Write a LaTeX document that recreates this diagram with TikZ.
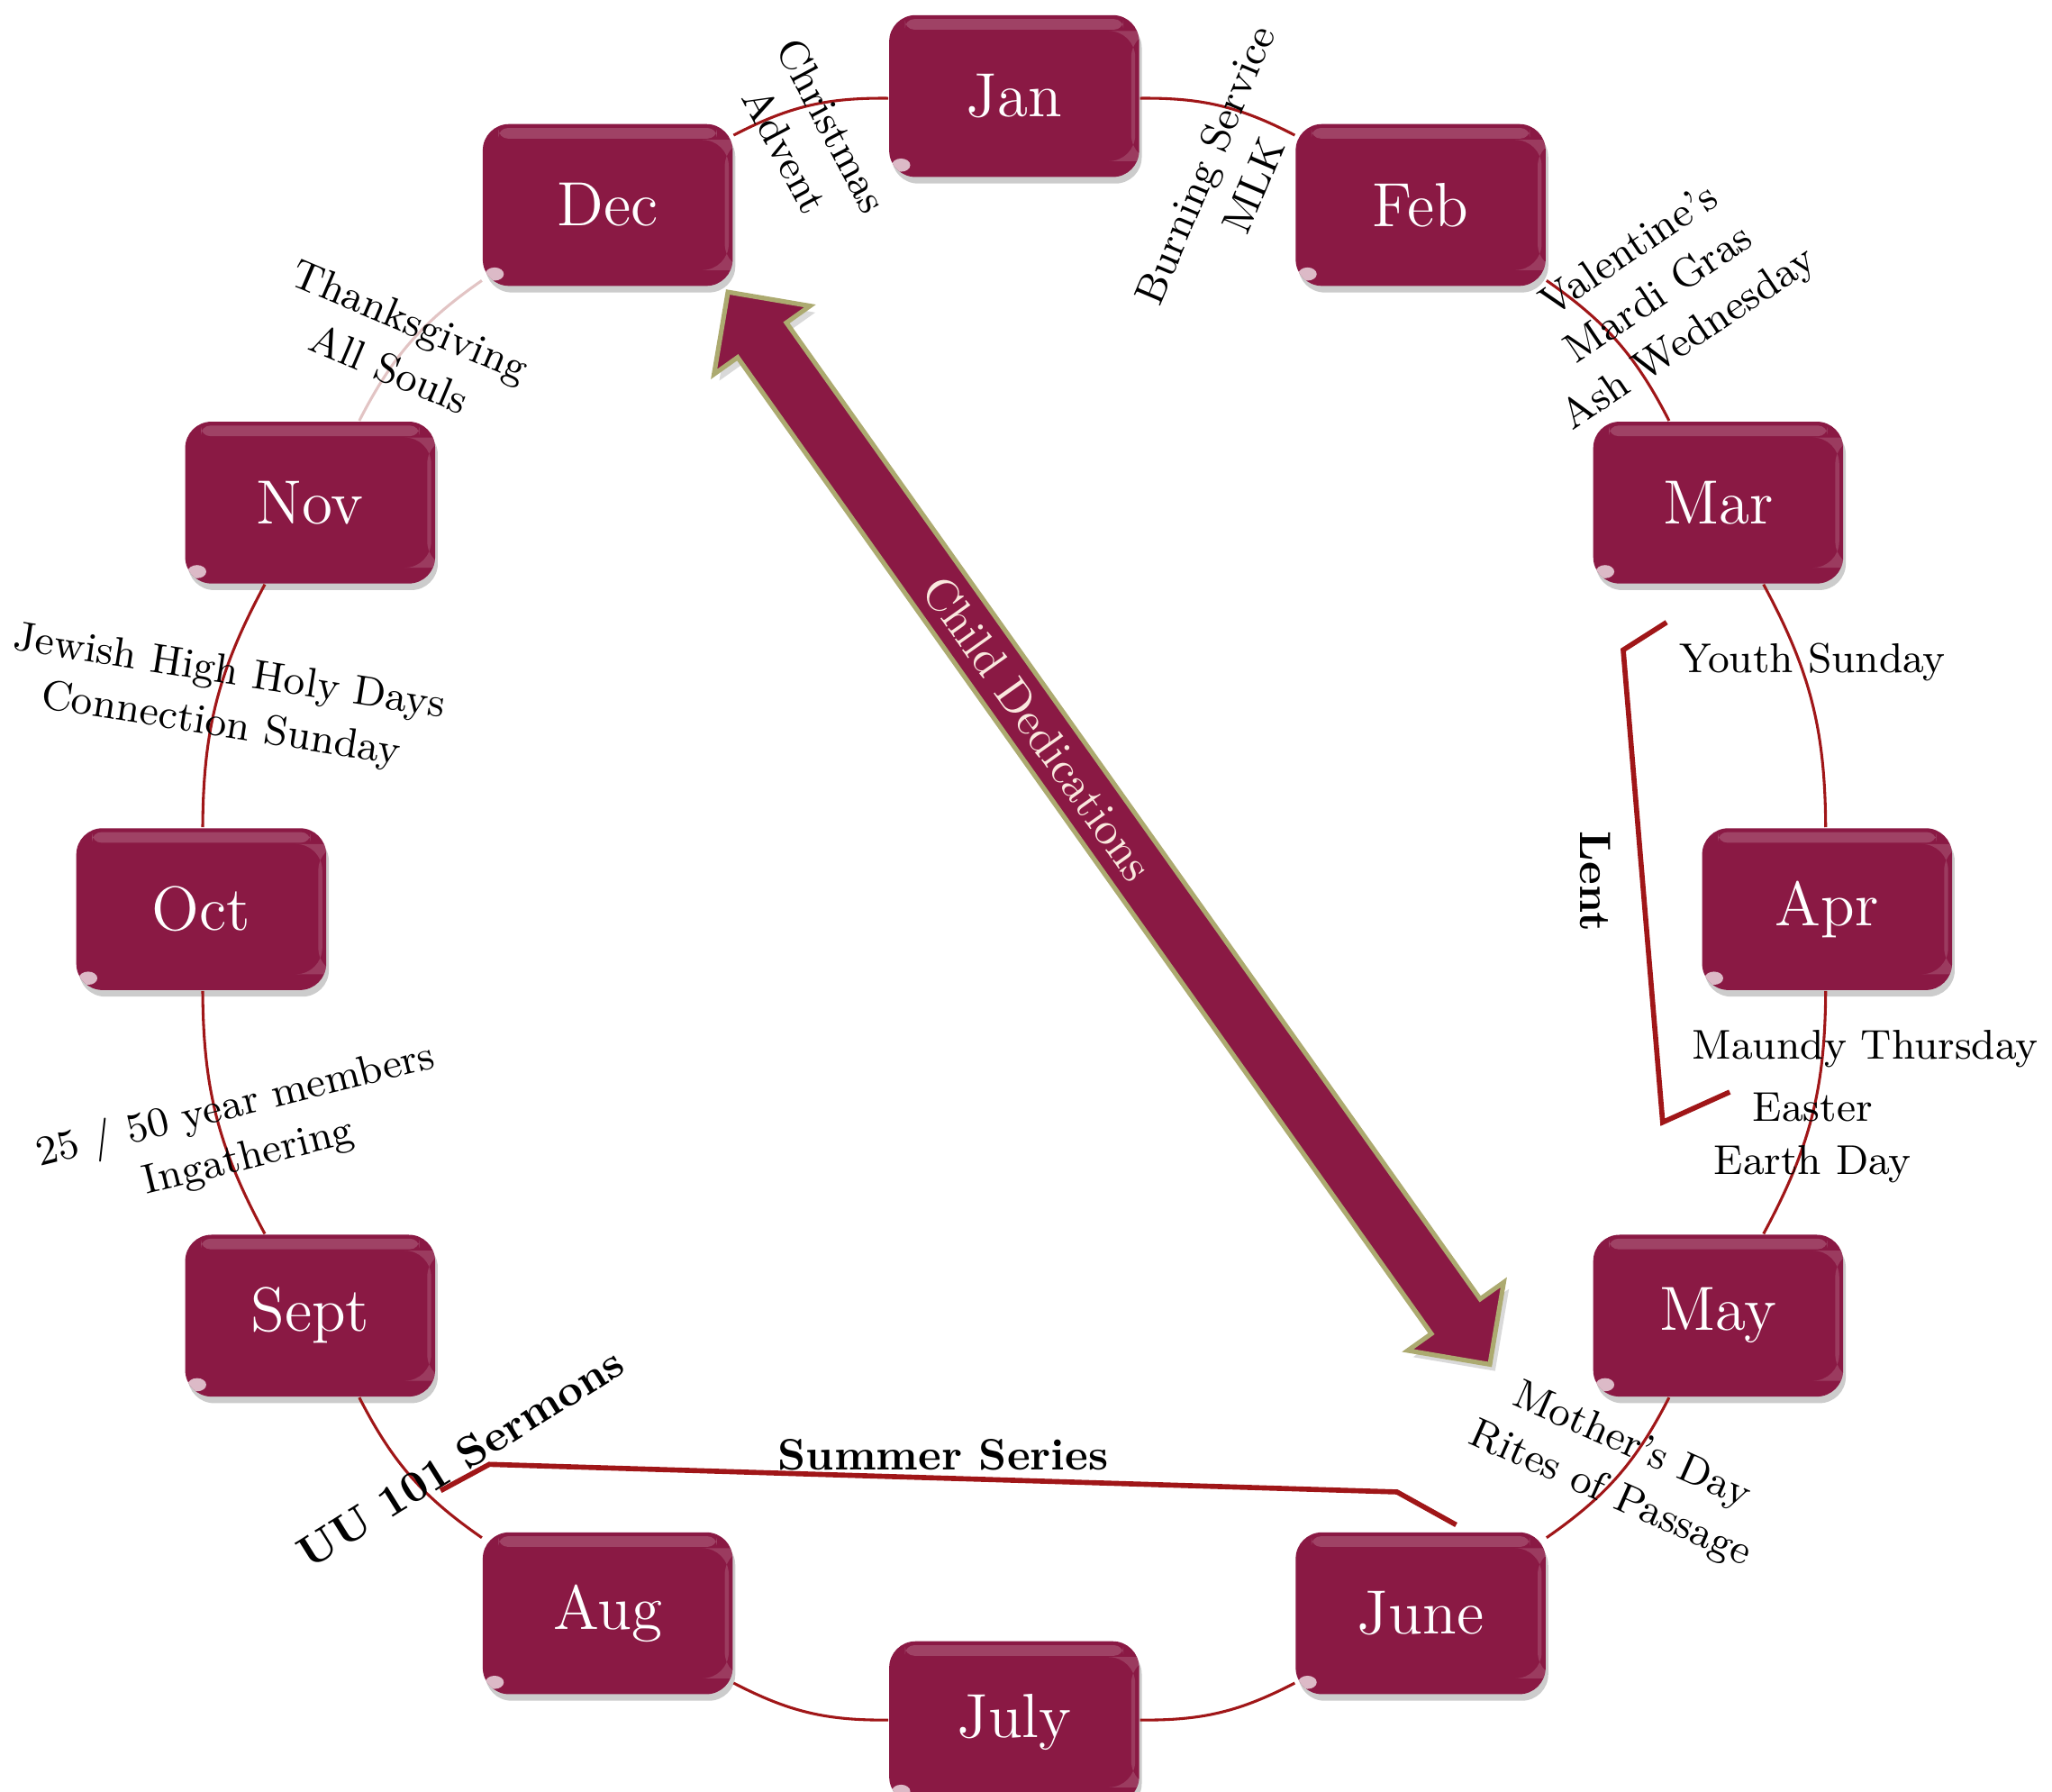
\documentclass[tikz,border=0pt]{standalone}
\usepackage{tikz}
\usetikzlibrary{arrows,positioning,calc,shapes.arrows,shadows}
\definecolor{burgundy}{RGB}{138,25,68}
\definecolor{cordred}{RGB}{160,22,24}
\definecolor{palecord}{RGB}{226,196,196}
\definecolor{olivebrd}{RGB}{172,170,112}
\definecolor{cream}{RGB}{250,232,222}
\tikzstyle{month}=[fill=burgundy,rounded corners=0.2cm,minimum width=1.9cm,minimum height=1.23cm,text=white,font=\fontsize{13.5}{16}\selectfont,drop shadow={opacity=0.4,shadow xshift=0.02cm,shadow yshift=-0.05cm},path picture={
  \fill[white,opacity=0.18,rounded corners=2pt] ([xshift=0.12cm,yshift=-0.03cm]path picture bounding box.north west) rectangle ([xshift=-0.12cm,yshift=-0.11cm]path picture bounding box.north east);
  \fill[white,opacity=0.15] ([xshift=-0.06cm,yshift=-0.12cm]path picture bounding box.north east) rectangle ([xshift=-0.03cm,yshift=0.12cm]path picture bounding box.south east);
  \fill[white,opacity=0.7] ([xshift=0.09cm,yshift=0.09cm]path picture bounding box.south west) ellipse (0.07cm and 0.05cm);}]
\tikzstyle{evt}=[align=center,font=\fontsize{9}{11.5}\selectfont,inner sep=1pt]
\tikzstyle{evtbold}=[font=\fontsize{9.5}{12}\selectfont\bfseries,inner sep=1pt]
\tikzstyle{conn}=[cordred,line width=0.6pt]
\tikzstyle{brace}=[cordred,line width=1.1pt]

\begin{document}
\begin{tikzpicture}
\useasboundingbox (0,0) rectangle (15.6,-13.62);
\coordinate (ctr) at (7.71,-6.91);

% the big arrow across the year
\node[double arrow,fill=burgundy,draw=olivebrd,line width=1pt,rotate=-54.6,minimum height=10cm,inner xsep=0pt,inner ysep=0.21cm,double arrow head extend=0.22cm,double arrow tip angle=90,drop shadow={opacity=0.3,shadow xshift=0.04cm,shadow yshift=-0.05cm}] (dedic) at (8.43,-6.295) {};
\node[rotate=-54.6,text=cream,font=\fontsize{10}{12}\selectfont,inner sep=0pt] (dedtxt) at ([shift={(125.4:0.93)}]dedic.center) {Child Dedications};

% months round the circle
\foreach \nm/\txt/\ang in {jan/Jan/90, feb/Feb/60, mar/Mar/30, apr/Apr/0, may/May/-30, june/June/-60, july/July/-90, aug/Aug/-120, sept/Sept/-150, oct/Oct/180, nov/Nov/150, dec/Dec/120}
  \node[month] (\nm) at ([shift={(\ang:6.18)}]ctr) {\txt};

\foreach \a/\b in {dec/jan, jan/feb, feb/mar, mar/apr, apr/may, may/june, june/july, july/aug, aug/sept, sept/oct, oct/nov}
  \draw[conn] (\a) to[bend left=14] (\b);
\draw[conn,palecord] (nov) to[bend left=14] (dec);

% what happens when
\node[evt,rotate=-62] (xmas) at (6.15,-1.05) {Christmas\\Advent};
\node[evt,rotate=67] (mlk) at (9.34,-1.33) {Burning Service\\MLK};
\node[evt,rotate=34] (vday) at (12.62,-2.25) {Valentine's\\Mardi Gras\\Ash Wednesday};
\node[evt,rotate=-23] (thanks) at (3.04,-2.62) {Thanksgiving\\All Souls};
\node[evt,rotate=-9] (holy) at (1.71,-5.32) {Jewish High Holy Days\\Connection Sunday};
\node[evt,rotate=14] (ingath) at (1.84,-8.60) {25 / 50 year members\\Ingathering};
\node[evt] (youth) at (13.78,-5.03) {Youth Sunday};
\node[evt] (maundy) at (14.18,-7.97) {Maundy Thursday};
\node[evt] (easter) at (13.78,-8.65) {Easter\\Earth Day};
\node[evt,rotate=-24] (mother) at (12.32,-11.18) {Mother's Day\\Rites of Passage};
\node[evtbold,rotate=-90] (lent) at (12.13,-6.70) {Lent};
\node[evtbold] (summer) at (7.17,-11.06) {Summer Series};
\node[evtbold,rotate=32] (uu101) at (3.50,-11.08) {UU 101 Sermons};

% brackets
\coordinate (lentA) at (12.67,-4.73);
\coordinate (lentB) at (12.34,-4.94);
\coordinate (lentC) at (12.64,-8.53);
\coordinate (lentD) at (13.15,-8.30);
\draw[brace] (lentA) -- (lentB) -- (lentC) -- (lentD);
\coordinate (sumA) at (3.35,-11.33);
\coordinate (sumB) at (3.72,-11.13);
\coordinate (sumC) at (10.62,-11.34);
\coordinate (sumD) at (11.07,-11.59);
\draw[brace] (sumA) -- (sumB) -- (sumC) -- (sumD);
\end{tikzpicture}
\end{document}
